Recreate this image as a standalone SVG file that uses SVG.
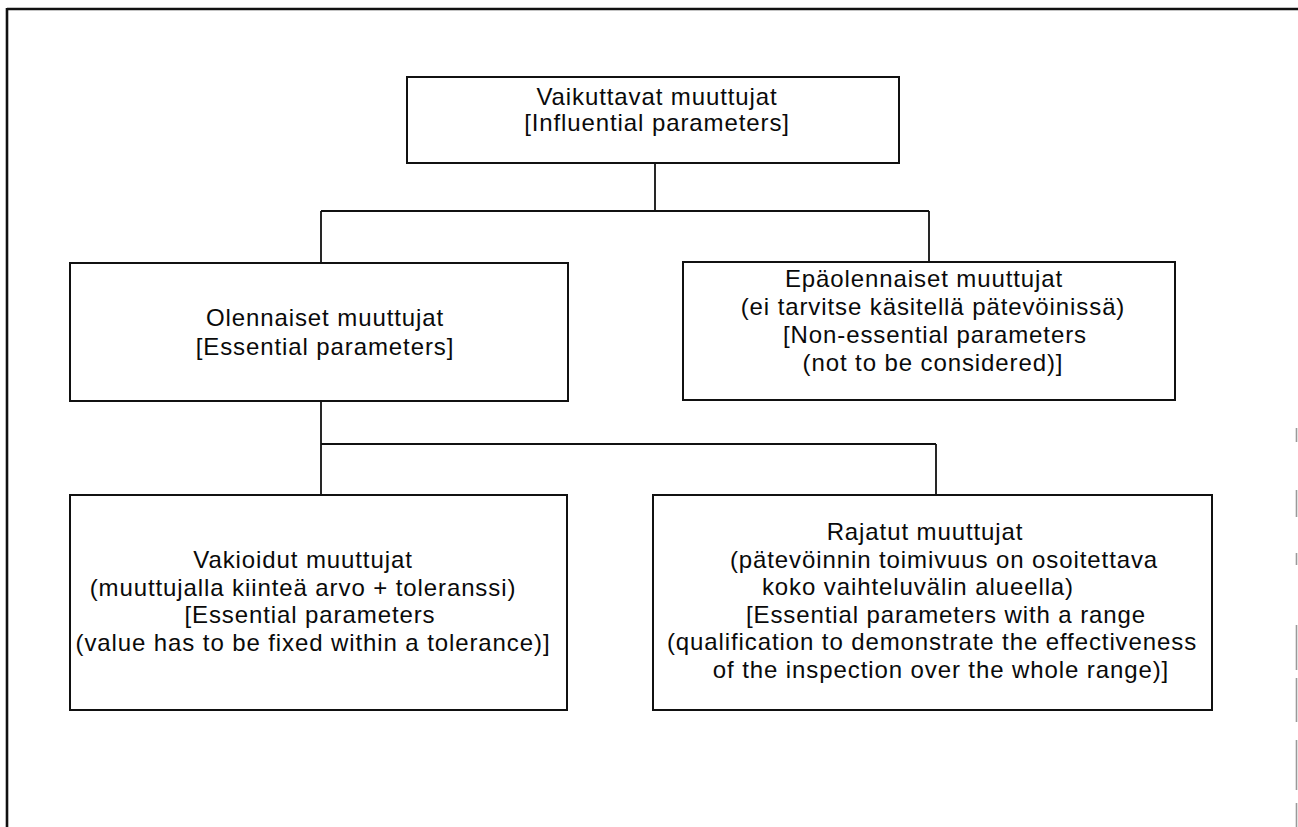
<svg xmlns="http://www.w3.org/2000/svg" width="1298" height="827" viewBox="0 0 1298 827">
<style>
.frame{stroke:#111;stroke-width:2.6;fill:none}
.faint{stroke:#9a9a9a;stroke-width:1.6;fill:none}
.box{fill:#fff;stroke:#111;stroke-width:2}
.conn{stroke:#111;stroke-width:1.8;fill:none}
text{font-family:"Liberation Sans",Arial,sans-serif;font-size:24px;fill:#0a0a0a;text-anchor:middle;letter-spacing:0.9px}
</style>
<rect width="1298" height="827" fill="#fff"/>
<g id="frame">
<line class="frame" x1="7" y1="9" x2="1298" y2="9"/>
<line class="frame" x1="7" y1="8" x2="7" y2="827"/>
<path class="faint" d="M1296.5 428V442M1296.5 490V517M1296.5 553V565M1296.5 625V670M1296.5 678V722M1296.5 740V790M1296.5 803V827"/>
</g>
<g id="connectors">
<path class="conn" d="M655 163V211M321 211H929M321 211V263M929 211V262"/>
<path class="conn" d="M321 401V444M321 444H936M321 444V495M936 444V495"/>
</g>
<g id="influential">
<rect class="box" x="407" y="77" width="492" height="86"/>
<text x="657" y="105">Vaikuttavat muuttujat</text>
<text x="657" y="131">[Influential parameters]</text>
</g>
<g id="essential">
<rect class="box" x="70" y="263" width="498" height="138"/>
<text x="325" y="326">Olennaiset muuttujat</text>
<text x="325" y="355">[Essential parameters]</text>
</g>
<g id="non-essential">
<rect class="box" x="683" y="262" width="492" height="138"/>
<text x="924" y="287">Epäolennaiset muuttujat</text>
<text x="933" y="315">(ei tarvitse käsitellä pätevöinissä)</text>
<text x="935" y="343">[Non-essential parameters</text>
<text x="933" y="371">(not to be considered)]</text>
</g>
<g id="fixed">
<rect class="box" x="70" y="495" width="497" height="215"/>
<text x="303" y="568">Vakioidut muuttujat</text>
<text x="303" y="595.5">(muuttujalla kiinteä arvo + toleranssi)</text>
<text x="310" y="623">[Essential parameters</text>
<text x="313" y="650.5">(value has to be fixed within a tolerance)]</text>
</g>
<g id="range">
<rect class="box" x="653" y="495" width="559" height="215"/>
<text x="925" y="540">Rajatut muuttujat</text>
<text x="944" y="567.5">(pätevöinnin toimivuus on osoitettava</text>
<text x="918" y="595">koko vaihteluvälin alueella)</text>
<text x="946" y="622.5">[Essential parameters with a range</text>
<text x="932" y="650">(qualification to demonstrate the effectiveness</text>
<text x="941" y="677.5">of the inspection over the whole range)]</text>
</g>
</svg>
